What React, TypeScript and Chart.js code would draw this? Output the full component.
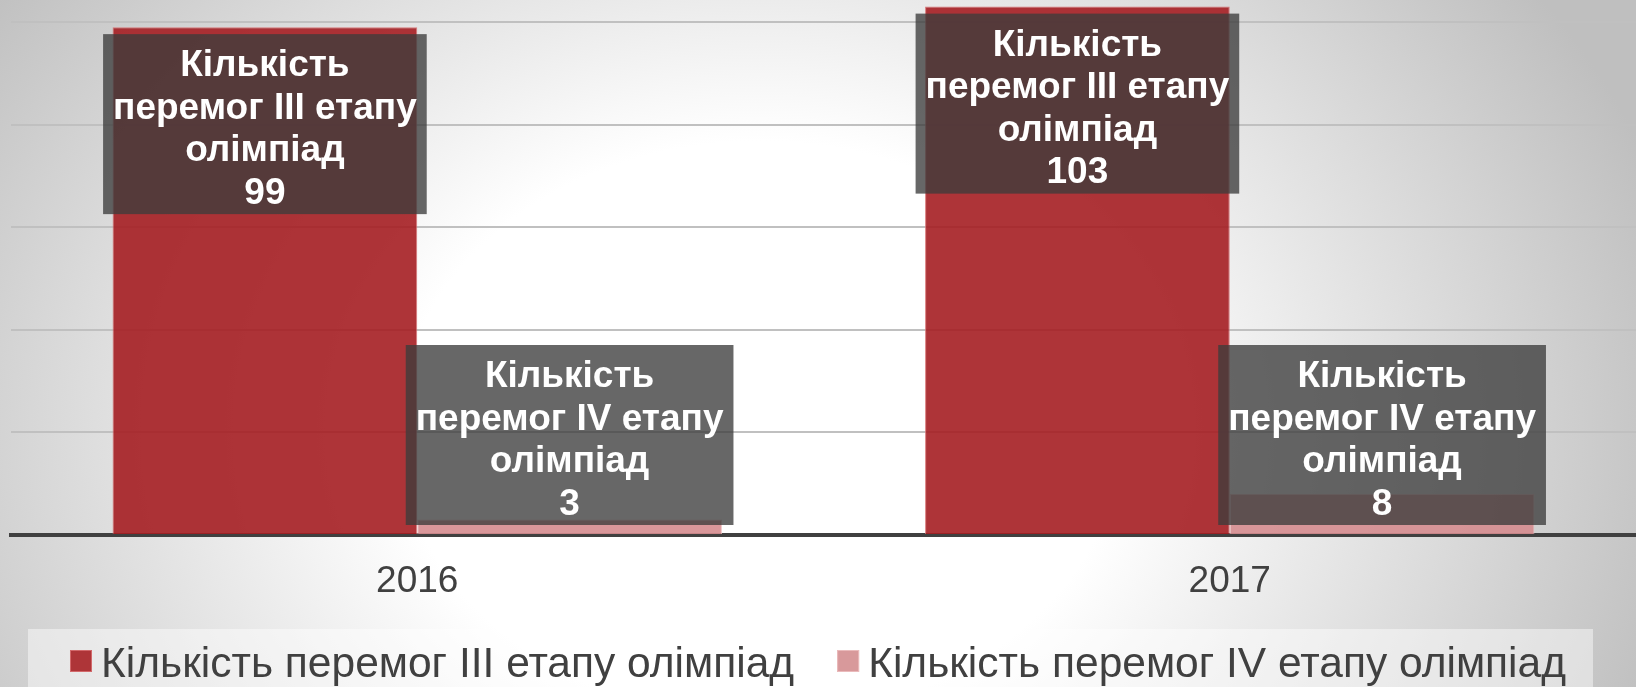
import React, { useEffect, useRef } from "react";
import { Chart, registerables } from "chart.js";

Chart.register(...registerables);

// ---- data ----
const categories = ["2016", "2017"];
const seriesNames = [
  "Кількість перемог III етапу олімпіад",
  "Кількість перемог IV етапу олімпіад",
];
const stage3Wins = [99, 103];
const stage4Wins = [3, 8];
const stage3LabelLines = ["Кількість", "перемог III етапу", "олімпіад"];
const stage4LabelLines = ["Кількість", "перемог IV етапу", "олімпіад"];
const yMin = 0;
const yMax = 100;
const yStep = 20;

const FONT = '"Liberation Sans", Arial, Helvetica, sans-serif';
const TEXT_DARK = "#404040";

const barLabelPlugin = {
  id: "barLabels",
  afterDatasetsDraw(chart: any) {
    const ctx = chart.ctx;
    ctx.save();
    ctx.font = `bold 37px ${FONT}`;
    ctx.textAlign = "center";
    ctx.textBaseline = "middle";
    chart.data.datasets.forEach((ds: any, i: number) => {
      const meta = chart.getDatasetMeta(i);
      meta.data.forEach((el: any, j: number) => {
        const { x, y, base } = el.getProps(["x", "y", "base"], true);
        const lines = [...ds.labelLines, String(ds.data[j])];
        const lineH = 42.5;
        const w = Math.max(...lines.map((l: string) => ctx.measureText(l).width)) + 20;
        const h = 180;
        const top = ds.labelAnchor === "end" ? y + 7 : base - 9 - h;
        ctx.fillStyle = "rgba(60,60,60,0.78)";
        ctx.fillRect(x - w / 2, top, w, h);
        ctx.fillStyle = "#ffffff";
        lines.forEach((l: string, k: number) => {
          ctx.fillText(l, x, top + 32 + k * lineH);
        });
      });
    });
    ctx.restore();
  },
};

const legendPlugin = {
  id: "bottomLegend",
  afterDraw(chart: any) {
    const ctx = chart.ctx;
    ctx.save();
    const bandTop = 629;
    ctx.fillStyle = "rgba(255,255,255,0.45)";
    ctx.fillRect(28, bandTop, chart.width - 28 - 43, chart.height - bandTop);

    ctx.font = `42.5px ${FONT}`;
    ctx.textBaseline = "alphabetic";
    ctx.textAlign = "left";
    const box = 22;
    const gap = 9;
    const between = 43;
    const items = chart.data.datasets.map((ds: any) => ({
      text: ds.label,
      color: ds.legendColor,
      border: ds.borderColor,
      w: ctx.measureText(ds.label).width,
    }));
    const total =
      items.reduce((s: number, it: any) => s + box + gap + it.w, 0) +
      between * (items.length - 1);
    let x = (chart.width - total) / 2;
    const baseline = 677;
    items.forEach((it: any) => {
      ctx.fillStyle = it.color;
      ctx.fillRect(x, baseline - 27, box, box);
      ctx.strokeStyle = it.border;
      ctx.lineWidth = 1;
      ctx.strokeRect(x + 0.5, baseline - 26.5, box - 1, box - 1);
      ctx.fillStyle = TEXT_DARK;
      ctx.fillText(it.text, x + box + gap, baseline);
      x += box + gap + it.w + between;
    });
    ctx.restore();
  },
};

export default function App() {
  const canvasRef = useRef<HTMLCanvasElement | null>(null);

  useEffect(() => {
    if (!canvasRef.current) return;
    const chart = new Chart(canvasRef.current, {
      type: "bar",
      data: {
        labels: categories,
        datasets: [
          {
            label: seriesNames[0],
            data: stage3Wins,
            backgroundColor: "rgba(165,30,34,0.9)",
            borderColor: "rgba(214,110,112,0.9)",
            borderWidth: 1,
            legendColor: "#ae3538",
            labelLines: stage3LabelLines,
            labelAnchor: "end",
            clip: false,
            categoryPercentage: 0.75,
            barPercentage: 1,
          } as any,
          {
            label: seriesNames[1],
            data: stage4Wins,
            backgroundColor: "rgba(213,140,143,0.9)",
            borderColor: "rgba(236,190,191,0.9)",
            borderWidth: 1,
            legendColor: "#d8999b",
            labelLines: stage4LabelLines,
            labelAnchor: "start",
            clip: false,
            categoryPercentage: 0.75,
            barPercentage: 1,
          } as any,
        ],
      },
      options: {
        responsive: false,
        animation: false,
        layout: { padding: { top: 22, left: 11, right: 0, bottom: 0 } },
        plugins: {
          legend: { display: false },
          tooltip: { enabled: false },
        },
        scales: {
          x: {
            grid: { display: false, drawTicks: false },
            border: { display: true, color: "#404040", width: 4 },
            ticks: {
              color: TEXT_DARK,
              font: { family: FONT, size: 37 },
              padding: 25,
            },
            afterFit: (s: any) => {
              s.height = 152;
            },
          },
          y: {
            min: yMin,
            max: yMax,
            ticks: { display: false, stepSize: yStep },
            border: { display: false },
            grid: {
              drawTicks: false,
              lineWidth: 2,
              color: (c: any) => (c.tick && c.tick.value === 0 ? "rgba(0,0,0,0)" : "#c0c0c0"),
            },
          },
        },
      },
      plugins: [barLabelPlugin, legendPlugin],
    });
    return () => chart.destroy();
  }, []);

  return (
    <div
      style={{
        position: "fixed",
        left: 0,
        top: 0,
        width: 1636,
        height: 687,
        overflow: "hidden",
        background:
          "radial-gradient(ellipse 950px 760px at 760px 430px, #ffffff 0%, #ffffff 38%, #bfbfbf 100%)",
      }}
    >
      <canvas ref={canvasRef} width={1636} height={687} style={{ display: "block" }} />
    </div>
  );
}
